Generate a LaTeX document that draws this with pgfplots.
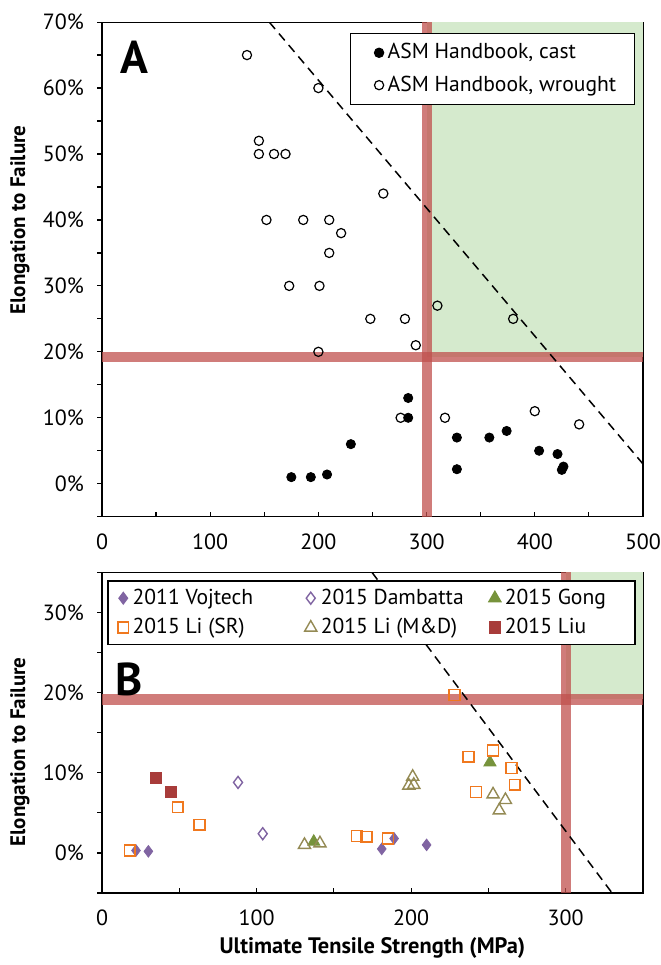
\documentclass[border=0pt]{standalone}
\usepackage{pgfplots}
\pgfplotsset{compat=1.18}
\usepackage{fontspec}
\setmainfont{PT Sans}
\definecolor{bandred}{RGB}{192,80,77}
\definecolor{zonegreen}{RGB}{213,234,205}
\definecolor{vpurple}{RGB}{128,100,162}
\definecolor{gong}{RGB}{119,147,60}
\definecolor{liSR}{RGB}{240,120,30}
\definecolor{liMD}{RGB}{148,138,84}
\definecolor{liu}{RGB}{168,60,58}
\begin{document}
\begin{tikzpicture}
\useasboundingbox (0pt,0pt) rectangle (330pt,482.5pt);
\pgfplotsset{
  myaxis/.style={
    scale only axis, width=270.5pt,
    axis line style={line width=0.6pt},
    every tick/.style={black, line width=0.6pt},
    xtick align=inside, ytick align=outside, tick pos=left,
    major tick length=2.5pt, minor tick length=2.5pt,
    font=\fontsize{11}{13}\selectfont,
    /pgf/number format/assume math mode=true,
    yticklabel={\pgfmathprintnumber{\tick}\%},
    xticklabel shift=5pt, yticklabel shift=3pt,
    ylabel style={font=\bfseries\fontsize{10.5}{12.5}\selectfont},
    xlabel style={font=\bfseries\fontsize{11.2}{13}\selectfont},
    legend image code/.code={\draw[##1] plot coordinates {(0pt,0pt)};},
    legend style={draw=black, line width=0.6pt, fill=white,
      font=\fontsize{10.8}{12.8}\selectfont},
    legend cell align=left,
  },
  padlegend/.style={
    legend image code/.code={\path (-7pt,0pt); \draw[##1] plot coordinates {(0pt,0pt)};},
  }
}
% ---------------- Panel A ----------------
\begin{axis}[myaxis, padlegend,
  at={(51pt,224.15pt)}, anchor=south west, height=247.3pt,
  xmin=0, xmax=500, ymin=-5, ymax=70,
  xtick={0,100,...,500}, minor xtick={50,150,...,450},
  ytick={0,10,...,70}, minor ytick={-5,5,15,...,65},
  ylabel={Elongation to Failure},
  ylabel style={at={(axis description cs:-0.1516,0.60)}, anchor=center},
  legend style={at={(rel axis cs:0.985,0.978)}, anchor=north east,
    inner xsep=7pt, inner ysep=3pt, row sep=3pt},
]
\addplot[fill=zonegreen, draw=none, forget plot] coordinates {(300,19.2) (500,19.2) (500,70) (300,70)} -- cycle;
\addplot[bandred, opacity=0.75, line width=5pt, forget plot] coordinates {(300,-5) (300,70)};
\addplot[bandred, opacity=0.75, line width=5.3pt, forget plot] coordinates {(0,19.2) (500,19.2)};
\addplot[black, line width=0.75pt, dash pattern=on 4.5pt off 3pt, forget plot] coordinates {(154.6,70) (500,3)};
\addplot[only marks, mark=*, mark size=2.3pt, black] coordinates {
(283,13) (283,10) (230,6) (328,7) (358,7) (374,8) (404,5) (421,4.5)
(426.5,2.6) (425,2.1) (328,2.2) (175,1.0) (193,1.0) (208,1.4)};
\addlegendentry{ASM Handbook, cast}
\addplot[only marks, mark=o, mark size=2.3pt, black, line width=0.6pt] coordinates {
(134,65) (200,60) (145,52) (145,50) (159,50) (169.6,50) (260,44) (152,40)
(186,40) (210,40) (221,38) (210,35) (173,30) (201,30) (310,27) (248,25)
(280,25) (380,25) (290,21) (200,20) (276,10) (317,10) (400,11) (441,9)};
\addlegendentry{ASM Handbook, wrought}
\node[font=\bfseries\fontsize{23}{26}\selectfont] at (rel axis cs:0.060,0.928) {A};
\end{axis}
% ---------------- Panel B ----------------
\begin{axis}[myaxis,
  at={(51pt,36pt)}, anchor=south west, height=160.3pt,
  xmin=0, xmax=350, ymin=-5, ymax=35,
  xtick={0,100,...,300}, minor xtick={50,150,250},
  ytick={0,10,...,30}, minor ytick={-5,5,...,35},
  ylabel={Elongation to Failure},
  ylabel style={at={(axis description cs:-0.1516,0.44)}, anchor=center},
  xlabel={Ultimate Tensile Strength (MPa)},
  xlabel style={at={(axis description cs:0.5,-0.1715)}, anchor=center},
  legend columns=3,
  legend style={at={(rel axis cs:0.0098,0.975)}, anchor=north west,
    inner xsep=5pt, inner ysep=2pt, row sep=1.5pt},
]
\addplot[fill=zonegreen, draw=none, forget plot] coordinates {(300,19.2) (350,19.2) (350,35) (300,35)} -- cycle;
\addplot[bandred, opacity=0.75, line width=5pt, forget plot] coordinates {(300,-5) (300,35)};
\addplot[bandred, opacity=0.75, line width=5.5pt, forget plot] coordinates {(0,19.2) (350,19.2)};
\addplot[black, line width=0.75pt, dash pattern=on 4.5pt off 3pt, forget plot] coordinates {(174.7,35) (330,-5)};
\addplot[only marks, mark=diamond*, mark size=2.9pt, vpurple, fill=vpurple] coordinates {
(22,0.3) (30,0.2) (181,0.5) (189,1.8) (210,1.0)};
\addlegendentry{\makebox[84pt][l]{2011 Vojtech}}
\addplot[only marks, mark=diamond, mark size=3pt, vpurple, line width=0.7pt] coordinates {
(88,8.8) (104,2.4)};
\addlegendentry{\makebox[82pt][l]{2015 Dambatta}}
\addplot[only marks, mark=triangle*, mark size=3.5pt, gong, fill=gong] coordinates {
(137,1.4) (251,11.3)};
\addlegendentry{\makebox[58pt][l]{2015 Gong}}
\addplot[only marks, mark=square, mark size=2.7pt, liSR, line width=0.8pt] coordinates {
(18,0.3) (49,5.7) (63,3.5) (165,2.1) (171,2.0) (185,1.8) (228,19.7) (237,12.0)
(253,12.8) (265,10.6) (267,8.5) (242,7.6)};
\addlegendentry{\makebox[84pt][l]{2015 Li (SR)}}
\addplot[only marks, mark=triangle, mark size=3.5pt, liMD, line width=0.7pt] coordinates {
(131,1.0) (141,1.2) (201,9.5) (198.5,8.4) (201.7,8.5) (253,7.3) (261,6.6) (257,5.3)};
\addlegendentry{\makebox[82pt][l]{2015 Li (M\&D)}}
\addplot[only marks, mark=square*, mark size=2.8pt, liu, fill=liu] coordinates {
(35,9.4) (44.5,7.6)};
\addlegendentry{\makebox[58pt][l]{2015 Liu}}
\node[font=\bfseries\fontsize{23}{26}\selectfont] at (rel axis cs:0.051,0.667) {B};
\end{axis}
\end{tikzpicture}
\end{document}
